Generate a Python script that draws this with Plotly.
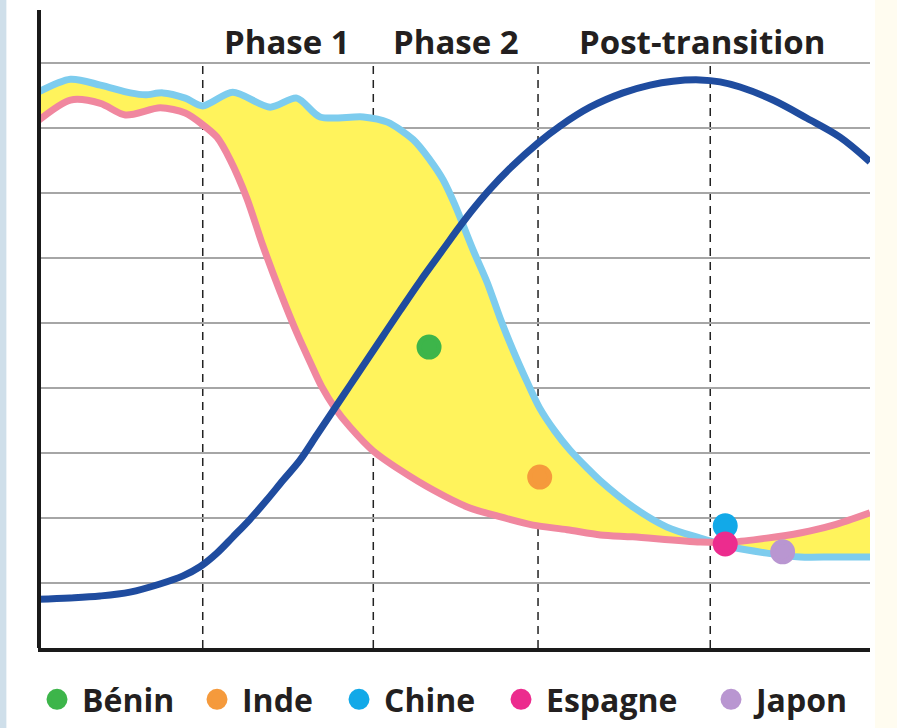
import plotly.graph_objects as go

# ---- data (schematic demographic transition; x = time, y = rate) ----
birth_x = [0, 3.9, 7.5, 11.1, 12.9, 15.0, 17.7, 19.8, 23.4, 27.9, 31.1, 33.9, 39.1, 42.0,
           45.1, 47.1, 48.7, 50.1, 52.3, 54.0, 55.5, 57.1, 58.8, 60.3, 62.1, 63.9, 66.0, 67.6,
           71.5, 75.6, 79.6, 83.5, 87.6, 91.6, 95.6, 100]
birth_y = [8.55, 8.75, 8.66, 8.54, 8.51, 8.54, 8.46, 8.34, 8.55, 8.32, 8.46, 8.17, 8.17, 8.09,
           7.82, 7.51, 7.20, 6.82, 6.12, 5.62, 5.09, 4.58, 4.09, 3.69, 3.34, 3.05, 2.77, 2.57,
           2.17, 1.86, 1.69, 1.55, 1.46, 1.40, 1.40, 1.40]

death_x = [0, 3.9, 7.5, 10.5, 14.7, 17.7, 19.7, 21.5, 23.1, 25.1, 27.0, 29.1, 31.1, 32.7,
           34.1, 35.7, 37.5, 40.3, 43.5, 47.5, 51.6, 55.5, 59.5, 63.6, 67.6, 71.5, 79.6, 83.5,
           87.6, 91.6, 95.6, 100]
death_y = [8.11, 8.43, 8.38, 8.20, 8.31, 8.23, 8.06, 7.86, 7.51, 6.92, 6.20, 5.48, 4.85, 4.40,
           4.02, 3.69, 3.40, 3.03, 2.74, 2.43, 2.17, 2.02, 1.89, 1.82, 1.74, 1.71, 1.63, 1.63,
           1.69, 1.77, 1.89, 2.08]

pop_x = [0, 3.85, 7.45, 11.06, 14.66, 17.43, 19.47, 21.51, 23.44, 25.48, 27.52, 29.45, 31.49,
         33.53, 35.46, 37.5, 39.54, 41.47, 43.51, 45.91, 48.68, 50.72, 52.28, 54.33, 56.73,
         60.1, 62.74, 66.35, 70.31, 73.56, 76.32, 79.57, 81.97, 84.38, 88.34, 92.43, 96.39, 100]
pop_y = [0.75, 0.77, 0.80, 0.86, 0.985, 1.11, 1.25, 1.46, 1.71, 1.98, 2.28, 2.58, 2.89,
         3.28, 3.65, 4.04, 4.43, 4.80, 5.19, 5.64, 6.13, 6.49, 6.75, 7.06, 7.38,
         7.77, 8.03, 8.32, 8.54, 8.66, 8.72, 8.74, 8.71, 8.63, 8.43, 8.15, 7.86, 7.48]

countries = ["Bénin", "Inde", "Chine", "Espagne", "Japon"]
country_x = [47.0, 60.3, 82.6, 82.6, 89.5]
country_y = [4.63, 2.63, 1.88, 1.60, 1.48]
country_colors = ["#3DB54A", "#F59A3C", "#12A9E8", "#EC2C8E", "#B996D1"]
legend_widths = [105, 87, 107, 155, 100]

phase_bounds = [19.8, 40.3, 60.1, 80.8]
phase_labels = ["Phase 1", "Phase 2", "Post-transition"]
phase_label_x = [29.9, 50.2, 79.8]

FONT = "'Open Sans', Roboto, 'DejaVu Sans', sans-serif"

fig = go.Figure()

# birth rate (light blue)
fig.add_trace(go.Scatter(x=birth_x, y=birth_y, mode="lines",
                         line=dict(color="#7DCCEE", width=7, shape="spline", smoothing=0.8),
                         showlegend=False, hoverinfo="skip"))
# death rate (pink) with yellow fill between
fig.add_trace(go.Scatter(x=death_x, y=death_y, mode="lines",
                         line=dict(color="#F0879F", width=7, shape="spline", smoothing=0.8),
                         fill="tonexty", fillcolor="#FFF35C", showlegend=False, hoverinfo="skip"))
# population (dark blue)
fig.add_trace(go.Scatter(x=pop_x, y=pop_y, mode="lines",
                         line=dict(color="#1F4C9F", width=7, shape="spline", smoothing=1.0),
                         showlegend=False, hoverinfo="skip"))

for name, cx, cy, col, lw in zip(countries, country_x, country_y, country_colors, legend_widths):
    fig.add_trace(go.Scatter(x=[cx], y=[cy], mode="markers", name=name,
                             marker=dict(color=col, size=20, line=dict(color=col, width=5)),
                             legendwidth=lw, hoverinfo="name"))

shapes = []
for b in phase_bounds:
    shapes.append(dict(type="line", xref="x", yref="y", x0=b, x1=b, y0=0, y1=9, layer="below",
                       line=dict(color="#222222", width=1.5, dash="8px,6px")))
# left axis line (stops a little below the top of the drawing area)
shapes.append(dict(type="line", xref="paper", yref="y", x0=0.0012, x1=0.0012, y0=-0.065, y1=9.815,
                   line=dict(color="#1A1A1A", width=4)))
# side strips of the page
shapes.append(dict(type="rect", xref="paper", yref="paper", x0=-0.0457, x1=-0.038, y0=-0.15, y1=1.02,
                   fillcolor="#CFDFEA", line=dict(width=0), layer="below"))
shapes.append(dict(type="rect", xref="paper", yref="paper", x0=1.006, x1=1.04, y0=-0.15, y1=1.02,
                   fillcolor="#FFFCF0", line=dict(width=0), layer="below"))

annotations = []
for lab, lx in zip(phase_labels, phase_label_x):
    annotations.append(dict(x=lx, y=9.33, xref="x", yref="y", text=lab, showarrow=False,
                            font=dict(family=FONT, size=33, color="#231F20", weight="bold"),
                            xanchor="center", yanchor="middle"))

fig.update_layout(
    width=897, height=728,
    margin=dict(l=38, r=27, t=0, b=80),
    paper_bgcolor="white", plot_bgcolor="white",
    shapes=shapes, annotations=annotations,
    showlegend=True,
    legend=dict(orientation="h", x=-0.0072, xanchor="left", y=-0.122, yanchor="bottom",
                traceorder="normal", itemwidth=40,
                font=dict(family=FONT, size=32, color="#231F20", weight="bold"),
                itemsizing="trace", bgcolor="rgba(0,0,0,0)", tracegroupgap=0),
    xaxis=dict(range=[0, 100], showgrid=False, zeroline=False, showticklabels=False, ticks="",
               showline=True, linecolor="#1A1A1A", linewidth=4, mirror=False),
    yaxis=dict(range=[0, 9.969], tickvals=[1, 2, 3, 4, 5, 6, 7, 8, 9], showgrid=True, gridcolor="#A6A6A6",
               gridwidth=1.5, zeroline=False, showticklabels=False, ticks="", showline=False),
)

fig.write_html("out.html", config={"displayModeBar": False},
               post_script="document.body.style.margin='0';")
